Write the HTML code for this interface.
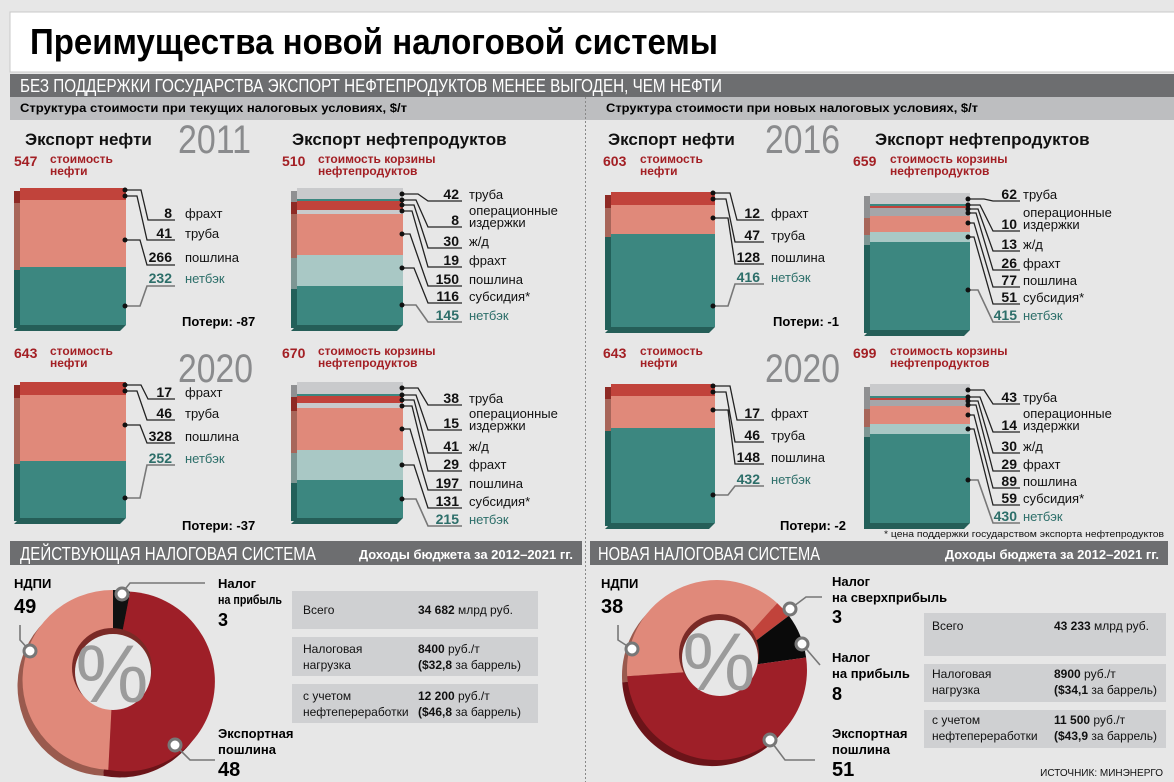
<!DOCTYPE html>
<html><head><meta charset="utf-8"><style>
html,body{margin:0;padding:0;background:#e7e7e7;}
svg{display:block;font-family:"Liberation Sans Narrow","Liberation Sans","DejaVu Sans",sans-serif;}
.b{font-weight:bold}
.n{font-weight:bold;font-size:14px;fill:#111;text-anchor:end}
.l{font-size:13px;fill:#111}
.t{fill:#2c6e69}
.r{fill:#a31f24;font-weight:bold}
.ln{fill:none;stroke:#222;stroke-width:1.3}
.lg{fill:none;stroke:#777;stroke-width:1.6}
.d{fill:#111}
</style></head><body>
<svg width="1174" height="782" viewBox="0 0 1174 782" xmlns="http://www.w3.org/2000/svg">
<rect width="1174" height="782" fill="#e7e7e7"/>
<rect x="10" y="12" width="1170" height="60" fill="#fff" stroke="#c8c8c8"/>
<text x="30" y="54" class="b" font-size="36" textLength="688" lengthAdjust="spacingAndGlyphs" fill="#000">Преимущества новой налоговой системы</text>
<rect x="10" y="74" width="1164" height="23" fill="#6d6e70"/>
<text x="20" y="92" font-size="18" fill="#fff" textLength="702" lengthAdjust="spacingAndGlyphs">БЕЗ ПОДДЕРЖКИ ГОСУДАРСТВА ЭКСПОРТ НЕФТЕПРОДУКТОВ МЕНЕЕ ВЫГОДЕН, ЧЕМ НЕФТИ</text>
<rect x="10" y="97" width="1164" height="23" fill="#bdbec0"/>
<text x="20" y="112" class="b" font-size="12" textLength="387" lengthAdjust="spacingAndGlyphs">Структура стоимости при текущих налоговых условиях, $/т</text>
<text x="606" y="112" class="b" font-size="12" textLength="372" lengthAdjust="spacingAndGlyphs">Структура стоимости при новых налоговых условиях, $/т</text>
<line x1="585.5" y1="97" x2="585.5" y2="782" stroke="#888" stroke-dasharray="2,2"/>

<!-- ===== Block A ===== -->
<text x="25" y="145" class="b" font-size="17" fill="#111">Экспорт нефти</text>
<text x="178" y="153" font-size="40" fill="#8a8b8d" textLength="73" lengthAdjust="spacingAndGlyphs">2011</text>
<text x="14" y="166" class="r" font-size="14">547</text>
<text x="50" y="163" class="r" font-size="12">стоимость</text><text x="50" y="175" class="r" font-size="12">нефти</text>
<rect x="14" y="191" width="6" height="12" fill="#8e2a25"/><rect x="14" y="203" width="6" height="67" fill="#a8665a"/><rect x="14" y="270" width="6" height="58" fill="#22605a"/>
<polygon points="20,325 126,325 120,331 14,331" fill="#255e58"/>
<rect x="20" y="188" width="106" height="12" fill="#c1433b"/><rect x="20" y="200" width="106" height="67" fill="#e0897a"/><rect x="20" y="267" width="106" height="58" fill="#3c8780"/>
<path class="ln" d="M125 190H141L148 220H175M125 196H137L147 240H175M125 240H140L147 265H175"/><path class="lg" d="M125 306H140L147 286H175"/>
<circle class="d" cx="125" cy="190" r="2.5"/><circle class="d" cx="125" cy="196" r="2.5"/><circle class="d" cx="125" cy="240" r="2.5"/><circle class="d" cx="125" cy="306" r="2.5"/>
<text x="172" y="218" class="n">8</text><text x="185" y="218" class="l">фрахт</text>
<text x="172" y="238" class="n">41</text><text x="185" y="238" class="l">труба</text>
<text x="172" y="262" class="n">266</text><text x="185" y="262" class="l">пошлина</text>
<text x="172" y="283" class="n t">232</text><text x="185" y="283" class="l t">нетбэк</text>
<text x="182" y="326" class="b" font-size="13">Потери: -87</text>

<!-- ===== Block B ===== -->
<text x="292" y="145" class="b" font-size="17" fill="#111">Экспорт нефтепродуктов</text>
<text x="282" y="166" class="r" font-size="14">510</text>
<text x="318" y="163" class="r" font-size="12">стоимость корзины</text><text x="318" y="175" class="r" font-size="12">нефтепродуктов</text>
<rect x="291" y="191" width="6" height="11" fill="#8f9092"/><rect x="291" y="202" width="6" height="12" fill="#8e2a25"/><rect x="291" y="214" width="6" height="44" fill="#a8665a"/><rect x="291" y="258" width="6" height="31" fill="#7d9693"/><rect x="291" y="289" width="6" height="39" fill="#22605a"/>
<polygon points="297,325 403,325 397,331 291,331" fill="#255e58"/>
<rect x="297" y="188" width="106" height="11" fill="#c9cacc"/><rect x="297" y="199" width="106" height="2" fill="#3c8780"/><rect x="297" y="201" width="106" height="9" fill="#c1433b"/><rect x="297" y="210" width="106" height="4" fill="#c9cacc"/><rect x="297" y="214" width="106" height="41" fill="#e0897a"/><rect x="297" y="255" width="106" height="31" fill="#a9c8c5"/><rect x="297" y="286" width="106" height="39" fill="#3c8780"/>
<path class="ln" d="M402 194H418L428 201H462M402 200H416L428 227H462M402 205H414L428 248H462M402 211H412L428 267H462M402 234H410L428 286H462M402 268H414L428 303H462"/><path class="lg" d="M402 305H416L428 322H462"/>
<g class="d"><circle cx="402" cy="194" r="2.5"/><circle cx="402" cy="200" r="2.5"/><circle cx="402" cy="205" r="2.5"/><circle cx="402" cy="211" r="2.5"/><circle cx="402" cy="234" r="2.5"/><circle cx="402" cy="268" r="2.5"/><circle cx="402" cy="305" r="2.5"/></g>
<text x="459" y="199" class="n">42</text><text x="469" y="199" class="l">труба</text>
<text x="459" y="225" class="n">8</text><text x="469" y="215" class="l">операционные</text><text x="469" y="227" class="l">издержки</text>
<text x="459" y="246" class="n">30</text><text x="469" y="246" class="l">ж/д</text>
<text x="459" y="265" class="n">19</text><text x="469" y="265" class="l">фрахт</text>
<text x="459" y="284" class="n">150</text><text x="469" y="284" class="l">пошлина</text>
<text x="459" y="301" class="n">116</text><text x="469" y="301" class="l">субсидия*</text>
<text x="459" y="320" class="n t">145</text><text x="469" y="320" class="l t">нетбэк</text>

<!-- ===== Block C ===== -->
<text x="178" y="382" font-size="40" fill="#8a8b8d" textLength="75" lengthAdjust="spacingAndGlyphs">2020</text>
<text x="14" y="358" class="r" font-size="14">643</text>
<text x="50" y="355" class="r" font-size="12">стоимость</text><text x="50" y="367" class="r" font-size="12">нефти</text>
<rect x="14" y="385" width="6" height="13" fill="#8e2a25"/><rect x="14" y="398" width="6" height="66" fill="#a8665a"/><rect x="14" y="464" width="6" height="57" fill="#22605a"/>
<polygon points="20,518 126,518 120,524 14,524" fill="#255e58"/>
<rect x="20" y="382" width="106" height="13" fill="#c1433b"/><rect x="20" y="395" width="106" height="66" fill="#e0897a"/><rect x="20" y="461" width="106" height="57" fill="#3c8780"/>
<path class="ln" d="M125 385H141L148 399H175M125 391H137L147 420H175M125 425H140L147 443H175"/><path class="lg" d="M125 498H140L147 465H175"/>
<g class="d"><circle cx="125" cy="385" r="2.5"/><circle cx="125" cy="391" r="2.5"/><circle cx="125" cy="425" r="2.5"/><circle cx="125" cy="498" r="2.5"/></g>
<text x="172" y="397" class="n">17</text><text x="185" y="397" class="l">фрахт</text>
<text x="172" y="418" class="n">46</text><text x="185" y="418" class="l">труба</text>
<text x="172" y="441" class="n">328</text><text x="185" y="441" class="l">пошлина</text>
<text x="172" y="463" class="n t">252</text><text x="185" y="463" class="l t">нетбэк</text>
<text x="182" y="530" class="b" font-size="13">Потери: -37</text>

<!-- ===== Block D ===== -->
<text x="282" y="358" class="r" font-size="14">670</text>
<text x="318" y="355" class="r" font-size="12">стоимость корзины</text><text x="318" y="367" class="r" font-size="12">нефтепродуктов</text>
<rect x="291" y="385" width="6" height="12" fill="#8f9092"/><rect x="291" y="397" width="6" height="14" fill="#8e2a25"/><rect x="291" y="411" width="6" height="42" fill="#a8665a"/><rect x="291" y="453" width="6" height="30" fill="#7d9693"/><rect x="291" y="483" width="6" height="38" fill="#22605a"/>
<polygon points="297,518 403,518 397,524 291,524" fill="#255e58"/>
<rect x="297" y="382" width="106" height="12" fill="#c9cacc"/><rect x="297" y="394" width="106" height="2" fill="#3c8780"/><rect x="297" y="396" width="106" height="7" fill="#c1433b"/><rect x="297" y="403" width="106" height="5" fill="#c9cacc"/><rect x="297" y="408" width="106" height="42" fill="#e0897a"/><rect x="297" y="450" width="106" height="30" fill="#a9c8c5"/><rect x="297" y="480" width="106" height="38" fill="#3c8780"/>
<path class="ln" d="M402 388H418L428 405H462M402 395H416L428 430H462M402 400H414L428 453H462M402 406H412L428 471H462M402 429H410L428 490H462M402 465H414L428 508H462"/><path class="lg" d="M402 499H416L428 526H462"/>
<g class="d"><circle cx="402" cy="388" r="2.5"/><circle cx="402" cy="395" r="2.5"/><circle cx="402" cy="400" r="2.5"/><circle cx="402" cy="406" r="2.5"/><circle cx="402" cy="429" r="2.5"/><circle cx="402" cy="465" r="2.5"/><circle cx="402" cy="499" r="2.5"/></g>
<text x="459" y="403" class="n">38</text><text x="469" y="403" class="l">труба</text>
<text x="459" y="428" class="n">15</text><text x="469" y="418" class="l">операционные</text><text x="469" y="430" class="l">издержки</text>
<text x="459" y="451" class="n">41</text><text x="469" y="451" class="l">ж/д</text>
<text x="459" y="469" class="n">29</text><text x="469" y="469" class="l">фрахт</text>
<text x="459" y="488" class="n">197</text><text x="469" y="488" class="l">пошлина</text>
<text x="459" y="506" class="n">131</text><text x="469" y="506" class="l">субсидия*</text>
<text x="459" y="524" class="n t">215</text><text x="469" y="524" class="l t">нетбэк</text>

<!-- ===== Block E ===== -->
<text x="608" y="145" class="b" font-size="17" fill="#111">Экспорт нефти</text>
<text x="765" y="153" font-size="40" fill="#8a8b8d" textLength="75" lengthAdjust="spacingAndGlyphs">2016</text>
<text x="603" y="166" class="r" font-size="14">603</text>
<text x="640" y="163" class="r" font-size="12">стоимость</text><text x="640" y="175" class="r" font-size="12">нефти</text>
<rect x="605" y="195" width="6" height="13" fill="#8e2a25"/><rect x="605" y="208" width="6" height="29" fill="#a8665a"/><rect x="605" y="237" width="6" height="93" fill="#22605a"/>
<polygon points="611,327 715,327 709,333 605,333" fill="#255e58"/>
<rect x="611" y="192" width="104" height="13" fill="#c1433b"/><rect x="611" y="205" width="104" height="29" fill="#e0897a"/><rect x="611" y="234" width="104" height="93" fill="#3c8780"/>
<path class="ln" d="M713 193H730L737 220H764M713 199H726L735 242H764M713 218H728L735 264H764"/><path class="lg" d="M713 306H728L735 284H764"/>
<g class="d"><circle cx="713" cy="193" r="2.5"/><circle cx="713" cy="199" r="2.5"/><circle cx="713" cy="218" r="2.5"/><circle cx="713" cy="306" r="2.5"/></g>
<text x="760" y="218" class="n">12</text><text x="771" y="218" class="l">фрахт</text>
<text x="760" y="240" class="n">47</text><text x="771" y="240" class="l">труба</text>
<text x="760" y="262" class="n">128</text><text x="771" y="262" class="l">пошлина</text>
<text x="760" y="282" class="n t">416</text><text x="771" y="282" class="l t">нетбэк</text>
<text x="773" y="326" class="b" font-size="13">Потери: -1</text>

<!-- ===== Block F ===== -->
<text x="875" y="145" class="b" font-size="17" fill="#111">Экспорт нефтепродуктов</text>
<text x="853" y="166" class="r" font-size="14">659</text>
<text x="890" y="163" class="r" font-size="12">стоимость корзины</text><text x="890" y="175" class="r" font-size="12">нефтепродуктов</text>
<rect x="864" y="196" width="6" height="11" fill="#8f9092"/><rect x="864" y="207" width="6" height="11" fill="#8f9092"/><rect x="864" y="218" width="6" height="17" fill="#a8665a"/><rect x="864" y="235" width="6" height="10" fill="#7d9693"/><rect x="864" y="245" width="6" height="88" fill="#22605a"/>
<polygon points="870,330 970,330 964,336 864,336" fill="#255e58"/>
<rect x="870" y="193" width="100" height="11" fill="#c9cacc"/><rect x="870" y="204" width="100" height="2" fill="#3c8780"/><rect x="870" y="206" width="100" height="2" fill="#c1433b"/><rect x="870" y="208" width="100" height="8" fill="#a5a6a9"/><rect x="870" y="216" width="100" height="16" fill="#e0897a"/><rect x="870" y="232" width="100" height="10" fill="#a9c8c5"/><rect x="870" y="242" width="100" height="88" fill="#3c8780"/>
<path class="ln" d="M968 199H984L993 201H1020M968 205H980L993 231H1020M968 209H978L993 251H1020M968 213H976L993 270H1020M968 223H974L993 287H1020M968 237H974L993 304H1020"/><path class="lg" d="M968 290H978L993 322H1020"/>
<g class="d"><circle cx="968" cy="199" r="2.5"/><circle cx="968" cy="205" r="2.5"/><circle cx="968" cy="209" r="2.5"/><circle cx="968" cy="213" r="2.5"/><circle cx="968" cy="223" r="2.5"/><circle cx="968" cy="237" r="2.5"/><circle cx="968" cy="290" r="2.5"/></g>
<text x="1017" y="199" class="n">62</text><text x="1023" y="199" class="l">труба</text>
<text x="1017" y="229" class="n">10</text><text x="1023" y="217" class="l">операционные</text><text x="1023" y="229" class="l">издержки</text>
<text x="1017" y="249" class="n">13</text><text x="1023" y="249" class="l">ж/д</text>
<text x="1017" y="268" class="n">26</text><text x="1023" y="268" class="l">фрахт</text>
<text x="1017" y="285" class="n">77</text><text x="1023" y="285" class="l">пошлина</text>
<text x="1017" y="302" class="n">51</text><text x="1023" y="302" class="l">субсидия*</text>
<text x="1017" y="320" class="n t">415</text><text x="1023" y="320" class="l t">нетбэк</text>

<!-- ===== Block G ===== -->
<text x="765" y="382" font-size="40" fill="#8a8b8d" textLength="75" lengthAdjust="spacingAndGlyphs">2020</text>
<text x="603" y="358" class="r" font-size="14">643</text>
<text x="640" y="355" class="r" font-size="12">стоимость</text><text x="640" y="367" class="r" font-size="12">нефти</text>
<rect x="605" y="387" width="6" height="12" fill="#8e2a25"/><rect x="605" y="399" width="6" height="32" fill="#a8665a"/><rect x="605" y="431" width="6" height="95" fill="#22605a"/>
<polygon points="611,523 715,523 709,529 605,529" fill="#255e58"/>
<rect x="611" y="384" width="104" height="12" fill="#c1433b"/><rect x="611" y="396" width="104" height="32" fill="#e0897a"/><rect x="611" y="428" width="104" height="95" fill="#3c8780"/>
<path class="ln" d="M713 386H730L737 420H764M713 392H726L735 442H764M713 410H728L735 464H764"/><path class="lg" d="M713 495H728L735 486H764"/>
<g class="d"><circle cx="713" cy="386" r="2.5"/><circle cx="713" cy="392" r="2.5"/><circle cx="713" cy="410" r="2.5"/><circle cx="713" cy="495" r="2.5"/></g>
<text x="760" y="418" class="n">17</text><text x="771" y="418" class="l">фрахт</text>
<text x="760" y="440" class="n">46</text><text x="771" y="440" class="l">труба</text>
<text x="760" y="462" class="n">148</text><text x="771" y="462" class="l">пошлина</text>
<text x="760" y="484" class="n t">432</text><text x="771" y="484" class="l t">нетбэк</text>
<text x="780" y="530" class="b" font-size="13">Потери: -2</text>

<!-- ===== Block H ===== -->
<text x="853" y="358" class="r" font-size="14">699</text>
<text x="890" y="355" class="r" font-size="12">стоимость корзины</text><text x="890" y="367" class="r" font-size="12">нефтепродуктов</text>
<rect x="864" y="387" width="6" height="12" fill="#8f9092"/><rect x="864" y="399" width="6" height="10" fill="#8f9092"/><rect x="864" y="409" width="6" height="18" fill="#a8665a"/><rect x="864" y="427" width="6" height="10" fill="#7d9693"/><rect x="864" y="437" width="6" height="92" fill="#22605a"/>
<polygon points="870,523 970,523 964,529 864,529" fill="#255e58"/>
<rect x="870" y="384" width="100" height="12" fill="#c9cacc"/><rect x="870" y="396" width="100" height="2" fill="#3c8780"/><rect x="870" y="398" width="100" height="2" fill="#c1433b"/><rect x="870" y="400" width="100" height="6" fill="#a5a6a9"/><rect x="870" y="406" width="100" height="18" fill="#e0897a"/><rect x="870" y="424" width="100" height="10" fill="#a9c8c5"/><rect x="870" y="434" width="100" height="89" fill="#3c8780"/>
<path class="ln" d="M968 390H984L993 404H1020M968 397H980L993 432H1020M968 401H978L993 453H1020M968 405H976L993 471H1020M968 415H974L993 488H1020M968 429H974L993 505H1020"/><path class="lg" d="M968 480H978L993 523H1020"/>
<g class="d"><circle cx="968" cy="390" r="2.5"/><circle cx="968" cy="397" r="2.5"/><circle cx="968" cy="401" r="2.5"/><circle cx="968" cy="405" r="2.5"/><circle cx="968" cy="415" r="2.5"/><circle cx="968" cy="429" r="2.5"/><circle cx="968" cy="480" r="2.5"/></g>
<text x="1017" y="402" class="n">43</text><text x="1023" y="402" class="l">труба</text>
<text x="1017" y="430" class="n">14</text><text x="1023" y="418" class="l">операционные</text><text x="1023" y="430" class="l">издержки</text>
<text x="1017" y="451" class="n">30</text><text x="1023" y="451" class="l">ж/д</text>
<text x="1017" y="469" class="n">29</text><text x="1023" y="469" class="l">фрахт</text>
<text x="1017" y="486" class="n">89</text><text x="1023" y="486" class="l">пошлина</text>
<text x="1017" y="503" class="n">59</text><text x="1023" y="503" class="l">субсидия*</text>
<text x="1017" y="521" class="n t">430</text><text x="1023" y="521" class="l t">нетбэк</text>
<text x="884" y="537" font-size="9" fill="#111" textLength="280" lengthAdjust="spacingAndGlyphs">* цена поддержки государством экспорта нефтепродуктов</text>

<!-- ===== Bottom left ===== -->
<rect x="10" y="541" width="572" height="24" fill="#6d6e70"/>
<text x="20" y="560" font-size="18" fill="#fff" textLength="296" lengthAdjust="spacingAndGlyphs">ДЕЙСТВУЮЩАЯ НАЛОГОВАЯ СИСТЕМА</text>
<text x="573" y="559" class="b" font-size="13" fill="#fff" text-anchor="end">Доходы бюджета за 2012–2021 гг.</text>
<g transform="translate(-5,6)">
<path d="M113 680L113 590A90 90 0 0 1 130.2 591.6Z" fill="#111"/>
<path d="M113 680L130.2 591.6A90 90 0 1 1 108.3 769.9Z" fill="#6b1419"/>
<path d="M113 680L108.3 769.9A90 90 0 0 1 113 590Z" fill="#9a5a4e"/>
</g>
<path d="M113 680L113 590A90 90 0 0 1 130.2 591.6Z" fill="#111"/>
<path d="M113 680L130.2 591.6A90 90 0 1 1 108.3 769.9Z" fill="#9e1f28"/>
<path d="M113 680L108.3 769.9A90 90 0 0 1 113 590Z" fill="#e0897a"/>
<circle cx="112" cy="668" r="40" fill="#7a2a26"/>
<circle cx="113" cy="672" r="38" fill="#e7e7e7"/>
<text x="112" y="702" font-size="82" fill="#9b9b9b" text-anchor="middle">%</text>
<path class="lg" d="M20 625V640L30 651M122 593L130 583H205M175 745L190 760H215"/>
<g fill="#fff" stroke="#777" stroke-width="3"><circle cx="30" cy="651" r="6"/><circle cx="122" cy="594" r="6"/><circle cx="175" cy="745" r="6"/></g>
<text x="14" y="588" class="b" font-size="13">НДПИ</text>
<text x="14" y="613" class="b" font-size="20">49</text>
<text x="218" y="588" class="b" font-size="13">Налог</text><text x="218" y="604" class="b" font-size="13" textLength="64" lengthAdjust="spacingAndGlyphs">на прибыль</text>
<text x="218" y="626" class="b" font-size="18">3</text>
<text x="218" y="738" class="b" font-size="13">Экспортная</text><text x="218" y="754" class="b" font-size="13">пошлина</text>
<text x="218" y="776" class="b" font-size="20">48</text>
<rect x="292" y="591" width="246" height="38" fill="#cfd0d2"/>
<rect x="292" y="637" width="246" height="39" fill="#cfd0d2"/>
<rect x="292" y="684" width="246" height="39" fill="#cfd0d2"/>
<g font-size="12" fill="#111">
<text x="303" y="614">Всего</text><text x="418" y="614"><tspan class="b">34 682</tspan> млрд руб.</text>
<text x="303" y="653">Налоговая</text><text x="303" y="669">нагрузка</text>
<text x="418" y="653"><tspan class="b">8400</tspan> руб./т</text><text x="418" y="669"><tspan class="b">($32,8</tspan> за баррель)</text>
<text x="303" y="700">с учетом</text><text x="303" y="716">нефтепереработки</text>
<text x="418" y="700"><tspan class="b">12 200</tspan> руб./т</text><text x="418" y="716"><tspan class="b">($46,8</tspan> за баррель)</text>
</g>

<!-- ===== Bottom right ===== -->
<rect x="590" y="541" width="578" height="24" fill="#6d6e70"/>
<text x="598" y="560" font-size="18" fill="#fff" textLength="222" lengthAdjust="spacingAndGlyphs">НОВАЯ НАЛОГОВАЯ СИСТЕМА</text>
<text x="1159" y="559" class="b" font-size="13" fill="#fff" text-anchor="end">Доходы бюджета за 2012–2021 гг.</text>
<g transform="translate(-5,6)">
<path d="M717 670L627.2 676.3A90 90 0 0 1 777.2 603.1Z" fill="#9a5a4e"/>
<path d="M717 670L806.1 657.5A90 90 0 1 1 627.2 676.3Z" fill="#6b1419"/>
</g>
<path d="M717 670L627.2 676.3A90 90 0 0 1 777.2 603.1Z" fill="#e0897a"/>
<path d="M717 670L777.2 603.1A90 90 0 0 1 788.9 615.8Z" fill="#c1433b"/>
<path d="M717 670L788.9 615.8A90 90 0 0 1 806.1 657.5Z" fill="#0a0a0a"/>
<path d="M717 670L806.1 657.5A90 90 0 1 1 627.2 676.3Z" fill="#9e1f28"/>
<circle cx="719" cy="654" r="40" fill="#7a2a26"/>
<circle cx="720" cy="658" r="38" fill="#e7e7e7"/>
<text x="719" y="690" font-size="82" fill="#9b9b9b" text-anchor="middle">%</text>
<path class="lg" d="M618 625V640L632 649M790 609L806 597H822M802 644L820 665M770 740L785 760H815"/>
<g fill="#fff" stroke="#777" stroke-width="3"><circle cx="632" cy="649" r="6"/><circle cx="790" cy="609" r="6"/><circle cx="802" cy="644" r="6"/><circle cx="770" cy="740" r="6"/></g>
<text x="601" y="588" class="b" font-size="13">НДПИ</text>
<text x="601" y="613" class="b" font-size="20">38</text>
<text x="832" y="586" class="b" font-size="13">Налог</text><text x="832" y="602" class="b" font-size="13">на сверхприбыль</text>
<text x="832" y="623" class="b" font-size="18">3</text>
<text x="832" y="662" class="b" font-size="13">Налог</text><text x="832" y="678" class="b" font-size="13">на прибыль</text>
<text x="832" y="700" class="b" font-size="18">8</text>
<text x="832" y="738" class="b" font-size="13">Экспортная</text><text x="832" y="754" class="b" font-size="13">пошлина</text>
<text x="832" y="776" class="b" font-size="20">51</text>
<rect x="924" y="613" width="242" height="43" fill="#cfd0d2"/>
<rect x="924" y="664" width="242" height="38" fill="#cfd0d2"/>
<rect x="924" y="710" width="242" height="38" fill="#cfd0d2"/>
<g font-size="12" fill="#111">
<text x="932" y="630">Всего</text><text x="1054" y="630"><tspan class="b">43 233</tspan> млрд руб.</text>
<text x="932" y="678">Налоговая</text><text x="932" y="694">нагрузка</text>
<text x="1054" y="678"><tspan class="b">8900</tspan> руб./т</text><text x="1054" y="694"><tspan class="b">($34,1</tspan> за баррель)</text>
<text x="932" y="724">с учетом</text><text x="932" y="740">нефтепереработки</text>
<text x="1054" y="724"><tspan class="b">11 500</tspan> руб./т</text><text x="1054" y="740"><tspan class="b">($43,9</tspan> за баррель)</text>
</g>
<text x="1163" y="776" font-size="10" fill="#111" text-anchor="end">ИСТОЧНИК: МИНЭНЕРГО</text>
</svg>
</body></html>
